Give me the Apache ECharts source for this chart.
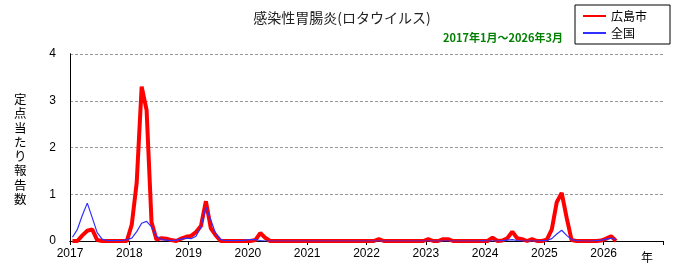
<!DOCTYPE html>
<html><head><meta charset="utf-8">
<script src="https://cdn.jsdelivr.net/npm/echarts@6/dist/echarts.min.js"></script>
<style>html,body{margin:0;padding:0;background:#fff}#c{width:700px;height:278px}</style>
</head><body><div id="c"></div>
<script>
// Monthly data, 2017-01 .. 2026-03
const startYear = 2017;
const yearTicks = [2017,2018,2019,2020,2021,2022,2023,2024,2025,2026];
const hiroshima = [
  // 2017
  0,0,0.12,0.22,0.25,0.02,0,0,0,0,0,0,
  // 2018
  0.35,1.25,3.3,2.8,0.4,0.03,0.06,0.05,0.02,0,0.05,0.09,
  // 2019
  0.11,0.19,0.32,0.85,0.27,0.12,0,0,0,0,0,0,
  // 2020
  0,0.02,0.17,0.07,0,0,0,0,0,0,0,0,
  // 2021
  0,0,0,0,0,0,0,0,0,0,0,0,
  // 2022
  0,0,0.04,0,0,0,0,0,0,0,0,0,
  // 2023
  0.04,0,0,0.04,0.04,0,0,0,0,0,0,0,
  // 2024
  0,0.07,0,0.01,0.06,0.2,0.06,0.04,0,0.04,0,0,
  // 2025
  0.03,0.25,0.83,1.03,0.5,0.02,0,0,0,0,0,0.01,
  // 2026
  0.05,0.1,0
];
const national = [
  // 2017
  0.08,0.25,0.55,0.81,0.5,0.18,0.04,0.01,0.01,0.01,0.01,0.03,
  // 2018
  0.06,0.2,0.38,0.42,0.3,0.1,0.03,0.02,0.01,0.02,0.04,0.06,
  // 2019
  0.05,0.1,0.3,0.72,0.45,0.15,0.03,0.01,0.01,0.01,0.01,0.02,
  // 2020
  0.03,0.03,0.01,0,0,0,0,0,0,0,0,0,
  // 2021
  0,0,0,0,0,0,0,0,0,0,0,0,
  // 2022
  0,0,0,0,0,0,0,0,0,0,0,0,
  // 2023
  0,0,0,0,0,0,0,0,0,0,0,0.01,
  // 2024
  0,0,0,0.01,0.02,0.03,0.01,0,0,0,0,0.01,
  // 2025
  0.01,0.05,0.15,0.23,0.12,0.03,0.01,0,0,0,0.01,0.02,
  // 2026
  0.04,0.06,0.03
];
const seriesNames = ['広島市','全国'];
const titleText = '感染性胃腸炎(ロタウイルス)';
const periodText = '2017年1月～2026年3月';
const yName = '定点当たり報告数';

// each month plotted at its middle (month index + 0.5)
const toPts = arr => arr.map((v,i)=>[i+0.5, v]);

const chart = echarts.init(document.getElementById('c'), null, {renderer:'canvas'});
const numFont = '"Liberation Sans", Arial, sans-serif';
const jpFont = '"Noto Sans CJK JP", sans-serif';
chart.setOption({
  animation:false,
  backgroundColor:'#fff',
  title:[
    {text:titleText, left:337, textAlign:'center', top:6,
     textStyle:{fontFamily:jpFont, fontSize:14, fontWeight:'normal', color:'#222'}},
    {text:periodText, left:498, textAlign:'center', top:27,
     textStyle:{fontFamily:jpFont, fontSize:11, fontWeight:'bold', color:'#008000'}}
  ],
  legend:{
    orient:'vertical', left:575, top:5,
    padding:[5,23,5,7], itemGap:5, itemWidth:23, itemHeight:12,
    borderColor:'#000', borderWidth:1,
    itemStyle:{opacity:0},
    textStyle:{fontFamily:jpFont, fontSize:12, color:'#000'},
    data:seriesNames
  },
  grid:{left:70, right:37, top:54, bottom:37, outerBoundsMode:'none', containLabel:false},
  xAxis:[{
    type:'value', min:0, max:120, interval:12,
    axisLine:{show:true, lineStyle:{color:'#000', width:1}},
    axisTick:{show:true, length:4, lineStyle:{color:'#000'}},
    splitLine:{show:false},
    axisLabel:{fontFamily:numFont, fontSize:12, color:'#000', margin:7,
      formatter:v=>{const y=startYear+Math.round(v/12); return yearTicks.indexOf(y)>=0?String(y):'';}}
  },{
    type:'value', min:0, max:120, position:'top',
    axisLine:{show:true, lineStyle:{color:'#000', width:1}},
    axisTick:{show:false}, axisLabel:{show:false}, splitLine:{show:false}
  }],
  yAxis:[{
    type:'value', min:0, max:4, interval:1,
    axisLine:{show:true, lineStyle:{color:'#000', width:1}},
    axisTick:{show:false},
    axisLabel:{fontFamily:numFont, fontSize:12, color:'#000', margin:14},
    splitLine:{show:true, lineStyle:{color:'#999', type:[3,2], width:1}}
  },{
    type:'value', min:0, max:4, position:'right',
    axisLine:{show:true, lineStyle:{color:'#000', width:1}},
    axisTick:{show:false}, axisLabel:{show:false}, splitLine:{show:false}
  }],
  series:[
    {name:seriesNames[0], type:'line', data:toPts(hiroshima), symbol:'none', showSymbol:false,
     lineStyle:{color:'#ff0000', width:4}, itemStyle:{color:'#ff0000'}, z:2},
    {name:seriesNames[1], type:'line', data:toPts(national), symbol:'none', showSymbol:false,
     lineStyle:{color:'#3030ff', width:1.2}, itemStyle:{color:'#3030ff'}, z:3}
  ],
  graphic:[
    {type:'text', left:14, top:92, style:{text:yName.split('').join('\n'), fontFamily:jpFont,
      fontSize:12.5, lineHeight:14.3, fill:'#000'}},
    {type:'text', left:641, top:251, style:{text:'年', fontFamily:jpFont, fontSize:12, fill:'#000'}}
  ]
});
</script></body></html>
